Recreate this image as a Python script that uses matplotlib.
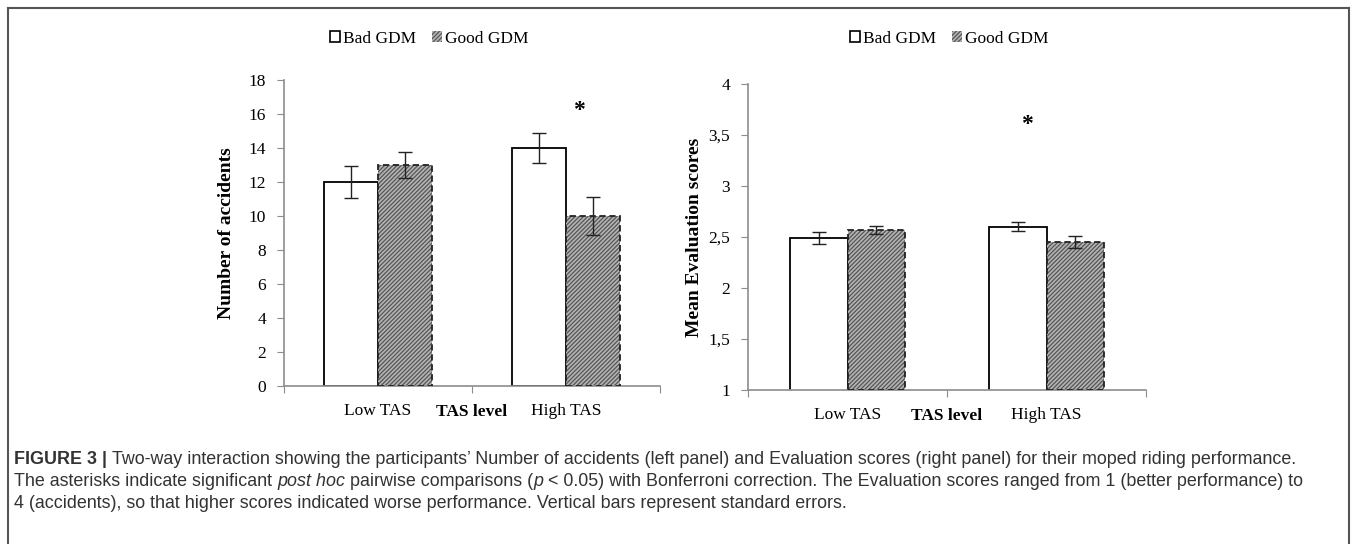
import matplotlib
matplotlib.use('Agg')
import matplotlib.pyplot as plt
import numpy as np
from matplotlib.patches import Patch
from matplotlib.lines import Line2D
from matplotlib.ticker import FuncFormatter

# data
groups = ['Low TAS', 'High TAS']
series = ['Bad GDM', 'Good GDM']
acc_bad = [12.0, 14.0]
acc_bad_se = [0.92, 0.86]
acc_good = [13.0, 10.0]
acc_good_se = [0.78, 1.1]
eval_bad = [2.49, 2.60]
eval_bad_se = [0.055, 0.045]
eval_good = [2.57, 2.45]
eval_good_se = [0.04, 0.06]

caption_lines = [
    [("FIGURE 3 | ", 'bold', 'normal'),
     ("Two-way interaction showing the participants\u2019 Number of accidents (left panel) and Evaluation scores (right panel) for their moped riding performance.", 'normal', 'normal')],
    [("The asterisks indicate significant ", 'normal', 'normal'), ("post hoc", 'normal', 'italic'),
     (" pairwise comparisons (", 'normal', 'normal'), ("p", 'normal', 'italic'),
     (" < 0.05) with Bonferroni correction. The Evaluation scores ranged from 1 (better performance) to", 'normal', 'normal')],
    [("4 (accidents), so that higher scores indicated worse performance. Vertical bars represent standard errors.", 'normal', 'normal')],
]

plt.rcParams['font.family'] = 'Liberation Serif'
plt.rcParams['hatch.linewidth'] = 0.9

W, H = 1357, 544
fig = plt.figure(figsize=(W / 100, H / 100), dpi=100)

def px_axes(x0, y0, x1, y1):
    return fig.add_axes([x0 / W, 1 - y1 / H, (x1 - x0) / W, (y1 - y0) / H])

bw = 0.287
x = np.arange(len(groups))
spine_col = '#8c8c8c'
hatch_face = '#b4b4b4'
hatch_col = '#555555'

def draw_panel(ax, bad, bad_se, good, good_se, ylo, yhi, ystep, ylabel, star, fmt, lpad):
    ax.bar(x - bw / 2, bad, bw, color='white', edgecolor='black', lw=1.3, zorder=2)
    ax.bar(x + bw / 2, [v - ylo for v in good], bw, bottom=ylo, color=hatch_face,
           edgecolor=hatch_col, hatch='////////', lw=0, zorder=2)
    ax.bar(x + bw / 2, [v - ylo for v in good], bw, bottom=ylo, fill=False,
           edgecolor='#222222', lw=1.3, ls=(0, (3.5, 2)), zorder=3)
    ax.errorbar(x - bw / 2, bad, yerr=bad_se, fmt='none', ecolor='#222222',
                elinewidth=1, capsize=5, capthick=1, zorder=4)
    ax.errorbar(x + bw / 2, good, yerr=good_se, fmt='none', ecolor='#222222',
                elinewidth=1, capsize=5, capthick=1, zorder=4)
    ax.set_xlim(-0.5, 1.5)
    ax.set_ylim(ylo, yhi)
    ax.set_yticks(np.arange(ylo, yhi + ystep / 2, ystep))
    ax.yaxis.set_major_formatter(FuncFormatter(fmt))
    ax.set_xticks([-0.5, 0.5, 1.5])
    ax.set_xticklabels([])
    ax.set_xticks(x, minor=True)
    ax.set_xticklabels(groups, minor=True)
    ax.tick_params(axis='x', which='minor', length=0, pad=12, labelsize=12.5)
    ax.tick_params(axis='x', which='major', length=5, direction='out', color=spine_col)
    ax.tick_params(axis='y', length=5, direction='out', color=spine_col, labelsize=12.5, pad=8)
    for s in ['top', 'right']:
        ax.spines[s].set_visible(False)
    for s in ['left', 'bottom']:
        ax.spines[s].set_color(spine_col)
        ax.spines[s].set_linewidth(1.2)
    ax.set_ylabel(ylabel, fontsize=14, fontweight='bold', labelpad=lpad)
    ax.text(star[0], star[1], '*', ha='center', va='center', fontsize=17, fontweight='bold')
    ax.text(0.5, -0.085, 'TAS level', transform=ax.transAxes, ha='center', va='center',
            fontsize=12.5, fontweight='bold')
    handles = [Patch(facecolor='white', edgecolor='black', lw=1.2, label=series[0]),
               Patch(facecolor=hatch_face, edgecolor=hatch_col, hatch='////////', lw=0, label=series[1])]
    ax.legend(handles=handles, loc='center', ncol=2,
              frameon=False, fontsize=12.5, handlelength=0.6, handleheight=0.6,
              handletextpad=0.15, columnspacing=0.9)

ax1 = px_axes(284, 80, 660, 386)
draw_panel(ax1, acc_bad, acc_bad_se, acc_good, acc_good_se, 0, 18, 2,
           'Number of accidents', (1.07, 16.2), lambda v, p: f'{v:g}', 10)
ax1.get_legend().set_bbox_to_anchor((0.386, 1 + 41 / 306))

ax2 = px_axes(748, 84, 1146, 390)
draw_panel(ax2, eval_bad, eval_bad_se, eval_good, eval_good_se, 1, 4, 0.5,
           'Mean Evaluation scores', (0.9, 3.6), lambda v, p: f'{v:g}'.replace('.', ','), 4)
ax2.get_legend().set_bbox_to_anchor((0.505, 1 + 45 / 306))

# frame around figure
fc = '#555555'
fig.add_artist(Line2D([8 / W, 8 / W], [0, 1 - 8 / H], color=fc, lw=1.5))
fig.add_artist(Line2D([8 / W, 1349 / W], [1 - 8 / H, 1 - 8 / H], color=fc, lw=1.5))
fig.add_artist(Line2D([1349 / W, 1349 / W], [0, 1 - 8 / H], color=fc, lw=1.5))

# caption, drawn piece by piece
renderer = fig.canvas.get_renderer()
y_lines = [460, 482, 504]
for line, yp in zip(caption_lines, y_lines):
    xp = 14
    for txt, wt, st in line:
        t = fig.text(xp / W, 1 - yp / H, txt, fontfamily='Liberation Sans', fontsize=12.9,
                     fontweight=wt, fontstyle=st, color='#333333', va='center', ha='left')
        bb = t.get_window_extent(renderer=renderer)
        xp += bb.width

fig.savefig('out.png', dpi=100)
